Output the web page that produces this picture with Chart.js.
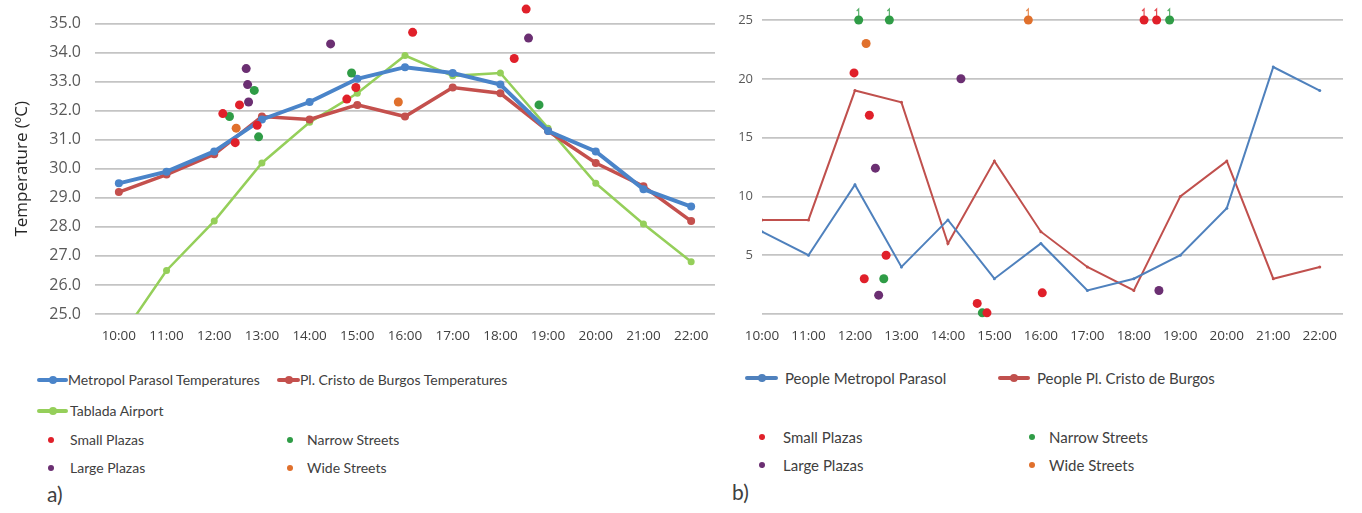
<!DOCTYPE html>
<html>
<head>
<meta charset="utf-8">
<script src="https://cdn.jsdelivr.net/npm/chart.js@4"></script>
<style>
    body { margin: 0; background: #fff; font-family: Lato, "Liberation Sans", sans-serif; color: #404040; }
    #page { position: relative; width: 1362px; height: 513px; overflow: hidden; }
    .box { position: absolute; top: 0; height: 350px; }
    .legend { position: absolute; font-size: 15px; }
    #temp-legend { font-size: 14px; }
    .item { position: absolute; white-space: nowrap; line-height: 20px; }
    .sym { position: absolute; top: 8px; height: 4px; border-radius: 2px; }
    .sym i { position: absolute; left: 50%; top: -2px; width: 8px; height: 8px; margin-left: -4px; border-radius: 50%; }
    .dot { position: absolute; top: 7px; width: 6px; height: 6px; border-radius: 50%; }
    .tag { position: absolute; font-size: 21px; }
</style>
</head>
<body>
<div id="page">
    <div class="box" style="left:0;width:720px"><canvas id="temp-chart"></canvas></div>
    <div class="box" style="left:720px;width:642px"><canvas id="people-chart"></canvas></div>
    <div class="legend" id="temp-legend"></div>
    <div class="legend" id="people-legend"></div>
    <div class="tag" style="left:47px;top:481px">a)</div>
    <div class="tag" style="left:732px;top:479px">b)</div>
</div>
<script>
const hours = ["10:00", "11:00", "12:00", "13:00", "14:00", "15:00", "16:00",
    "17:00", "18:00", "19:00", "20:00", "21:00", "22:00"];

// a) temperatures, degrees C
const metropolTemp = [29.5, 29.9, 30.6, 31.7, 32.3, 33.1, 33.5, 33.3, 32.9, 31.3, 30.6, 29.3, 28.7];
const cristoTemp = [29.2, 29.8, 30.5, 31.8, 31.7, 32.2, 31.8, 32.8, 32.6, 31.3, 30.2, 29.4, 28.2];
const tabladaTemp = [24.1, 26.5, 28.2, 30.2, 31.6, 32.6, 33.9, 33.2, 33.3, 31.4, 29.5, 28.1, 26.8];

// spot measurements: [time in hours, value]
const smallPlazasTemp = [[12.18, 31.9], [12.53, 32.2], [12.44, 30.9], [12.9, 31.5], [14.97, 32.8],
    [14.78, 32.4], [16.16, 34.7], [18.54, 35.5], [18.29, 33.8]];
const narrowStreetsTemp = [[12.32, 31.8], [12.84, 32.7], [12.93, 31.1], [14.88, 33.3], [18.81, 32.2]];
const largePlazasTemp = [[12.67, 33.45], [12.7, 32.9], [12.72, 32.3], [14.44, 34.3], [18.59, 34.5]];
const wideStreetsTemp = [[12.46, 31.4], [15.86, 32.3]];

// b) people counted
const metropolPeople = [7, 5, 11, 4, 8, 3, 6, 2, 3, 5, 9, 21, 19];
const cristoPeople = [8, 8, 19, 18, 6, 13, 7, 4, 2, 10, 13, 3, 4];

const smallPlazasPeople = [[11.98, 20.5], [12.31, 16.9], [12.67, 5], [12.2, 3], [14.63, 0.9],
    [14.84, 0.1], [16.03, 1.8], [18.22, 25], [18.49, 25]];
const narrowStreetsPeople = [[12.08, 25], [12.74, 25], [12.62, 3], [14.74, 0.1], [18.77, 25]];
const largePlazasPeople = [[12.44, 12.4], [12.51, 1.6], [14.28, 20], [18.54, 2]];
const wideStreetsPeople = [[12.24, 23], [15.73, 25]];

const tempTicks = [25, 26, 27, 28, 29, 30, 31, 32, 33, 34, 35];
const peopleTicks = [0, 5, 10, 15, 20, 25];

const colors = {
    blue: "#4a84c9", red: "#c4504d", green: "#95cf5a",
    blueB: "#4f81bd", redB: "#c0504d",
    small: "#e0202a", narrow: "#2f9c46", large: "#6b2f72", wide: "#e0702c"
};

const sans = "'Open Sans', Lato, sans-serif";

function toPoints(values) {
    return values.map(function(v, i) { return { x: i, y: v }; });
}

function toScatter(pairs) {
    return pairs.map(function(p) { return { x: p[0] - 10, y: p[1] }; });
}

function lineSet(label, values, color, width, radius) {
    return {
        type: "line", label: label, data: toPoints(values),
        borderColor: color, backgroundColor: color, borderWidth: width,
        pointRadius: radius, pointBorderWidth: 0, tension: 0, order: 2
    };
}

function dotSet(label, pairs, color) {
    return {
        type: "scatter", label: label, data: toScatter(pairs),
        backgroundColor: color, borderColor: color, pointRadius: 4.5,
        pointBorderWidth: 0, clip: false, order: 1
    };
}

// spot readings above the axis top: the point is still drawn (chart a),
// or a small arrow marks that the count runs off the axis (chart b)
const overTop = {
    id: "overTop",
    afterDatasetsDraw: function(chart) {
        let ctx = chart.ctx;
        let yMax = chart.scales.y.max;
        chart.data.datasets.forEach(function(ds, i) {
            if (ds.type !== "scatter") return;
            let meta = chart.getDatasetMeta(i);
            ds.data.forEach(function(d, j) {
                let el = meta.data[j];
                ctx.save();
                if (d.y > yMax) {
                    ctx.fillStyle = ds.backgroundColor;
                    ctx.beginPath();
                    ctx.arc(el.x, el.y, ds.pointRadius, 0, Math.PI * 2);
                    ctx.fill();
                } else if (chart.options.capArrows && d.y >= yMax) {
                    ctx.strokeStyle = ds.borderColor;
                    ctx.globalAlpha = 0.8;
                    ctx.lineWidth = 1.2;
                    ctx.beginPath();
                    ctx.moveTo(el.x, el.y - 3);
                    ctx.lineTo(el.x, el.y - 11);
                    ctx.lineTo(el.x - 2, el.y - 9);
                    ctx.stroke();
                }
                ctx.restore();
            });
        });
    }
};

function baseOptions(xMin, xMax, yMin, yMax, yTicks, axisWidth, padding) {
    return {
        responsive: true, maintainAspectRatio: false, animation: false,
        layout: { padding: padding },
        plugins: { legend: { display: false }, tooltip: { enabled: false } },
        scales: {
            x: {
                type: "linear", min: xMin, max: xMax,
                grid: { display: false }, border: { display: false },
                afterBuildTicks: function(scale) {
                    scale.ticks = hours.map(function(h, i) { return { value: i }; });
                },
                afterFit: function(scale) { scale.height = 36; },
                ticks: {
                    autoSkip: false, maxRotation: 0, padding: 6, color: "#404040",
                    font: { family: sans, size: 13.5 },
                    callback: function(v) { return hours[v]; }
                }
            },
            y: {
                min: yMin, max: yMax,
                afterBuildTicks: function(scale) {
                    scale.ticks = yTicks.map(function(v) { return { value: v }; });
                },
                afterFit: function(scale) { scale.width = axisWidth; },
                grid: { color: "#c4c4c4", lineWidth: 1.8, drawTicks: false },
                border: { display: false },
                ticks: { color: "#595959", font: { family: sans, size: 13 } }
            }
        }
    };
}

let tempOptions = baseOptions(-0.5, 12.5, 25, 35, tempTicks, 95, { top: 22, right: 5, left: 0, bottom: 0 });
tempOptions.scales.y.ticks.padding = 14;
tempOptions.scales.y.ticks.font = { family: sans, size: 16 };
tempOptions.scales.y.ticks.callback = function(v) { return v.toFixed(1); };
tempOptions.scales.y.title = {
    display: true, text: "Temperature (\u00baC)", color: "#262626",
    font: { family: sans, size: 17 }, padding: { top: 12, bottom: 0 }
};

new Chart(document.getElementById("temp-chart"), {
    data: {
        datasets: [
            lineSet("Metropol Parasol Temperatures", metropolTemp, colors.blue, 4, 4),
            lineSet("Pl. Cristo de Burgos Temperatures", cristoTemp, colors.red, 3.5, 4),
            lineSet("Tablada Airport", tabladaTemp, colors.green, 2.5, 3.5),
            dotSet("Small Plazas", smallPlazasTemp, colors.small),
            dotSet("Narrow Streets", narrowStreetsTemp, colors.narrow),
            dotSet("Large Plazas", largePlazasTemp, colors.large),
            dotSet("Wide Streets", wideStreetsTemp, colors.wide)
        ]
    },
    options: tempOptions,
    plugins: [overTop]
});

let peopleOptions = baseOptions(0, 12.5, 0, 25, peopleTicks, 42, { top: 20, right: 19, left: 0, bottom: 0 });
peopleOptions.capArrows = true;
peopleOptions.scales.y.ticks.padding = 9;
peopleOptions.scales.y.ticks.callback = function(v) { return v === 0 ? "" : v; };

new Chart(document.getElementById("people-chart"), {
    data: {
        datasets: [
            lineSet("People Metropol Parasol", metropolPeople, colors.blueB, 2, 1.5),
            lineSet("People Pl. Cristo de Burgos", cristoPeople, colors.redB, 2, 1.5),
            dotSet("Small Plazas", smallPlazasPeople, colors.small),
            dotSet("Narrow Streets", narrowStreetsPeople, colors.narrow),
            dotSet("Large Plazas", largePlazasPeople, colors.large),
            dotSet("Wide Streets", wideStreetsPeople, colors.wide)
        ]
    },
    options: peopleOptions,
    plugins: [overTop]
});

function addLegendItem(legend, item) {
    let div = document.createElement("div");
    div.className = "item";
    div.style.left = item.x + "px";
    div.style.top = item.y + "px";
    div.style.paddingLeft = item.textX + "px";
    if (item.dot) {
        let dot = document.createElement("span");
        dot.className = "dot";
        dot.style.left = item.dotX + "px";
        dot.style.background = item.color;
        div.appendChild(dot);
    } else {
        let sym = document.createElement("span");
        sym.className = "sym";
        sym.style.left = "0px";
        sym.style.width = item.symW + "px";
        sym.style.background = item.color;
        let mark = document.createElement("i");
        mark.style.background = item.color;
        sym.appendChild(mark);
        div.appendChild(sym);
    }
    div.appendChild(document.createTextNode(item.text));
    legend.appendChild(div);
}

const tempLegend = document.getElementById("temp-legend");
[
    { text: "Metropol Parasol Temperatures", color: colors.blue, x: 37, y: 370, symW: 31, textX: 31 },
    { text: "Pl. Cristo de Burgos Temperatures", color: colors.red, x: 277, y: 370, symW: 23, textX: 23 },
    { text: "Tablada Airport", color: colors.green, x: 37, y: 401, symW: 31, textX: 33 },
    { text: "Small Plazas", color: colors.small, x: 37, y: 430, dot: true, dotX: 11, textX: 33 },
    { text: "Narrow Streets", color: colors.narrow, x: 274, y: 430, dot: true, dotX: 13, textX: 33 },
    { text: "Large Plazas", color: colors.large, x: 37, y: 458, dot: true, dotX: 11, textX: 33 },
    { text: "Wide Streets", color: colors.wide, x: 274, y: 458, dot: true, dotX: 13, textX: 33 }
].forEach(function(item) { addLegendItem(tempLegend, item); });

const peopleLegend = document.getElementById("people-legend");
[
    { text: "People Metropol Parasol", color: colors.blueB, x: 745, y: 368, symW: 33, textX: 40 },
    { text: "People Pl. Cristo de Burgos", color: colors.redB, x: 998, y: 368, symW: 32, textX: 39 },
    { text: "Small Plazas", color: colors.small, x: 750, y: 427, dot: true, dotX: 9, textX: 33 },
    { text: "Narrow Streets", color: colors.narrow, x: 1016, y: 427, dot: true, dotX: 13, textX: 33 },
    { text: "Large Plazas", color: colors.large, x: 750, y: 455, dot: true, dotX: 9, textX: 33 },
    { text: "Wide Streets", color: colors.wide, x: 1016, y: 455, dot: true, dotX: 13, textX: 33 }
].forEach(function(item) { addLegendItem(peopleLegend, item); });
</script>
</body>
</html>
